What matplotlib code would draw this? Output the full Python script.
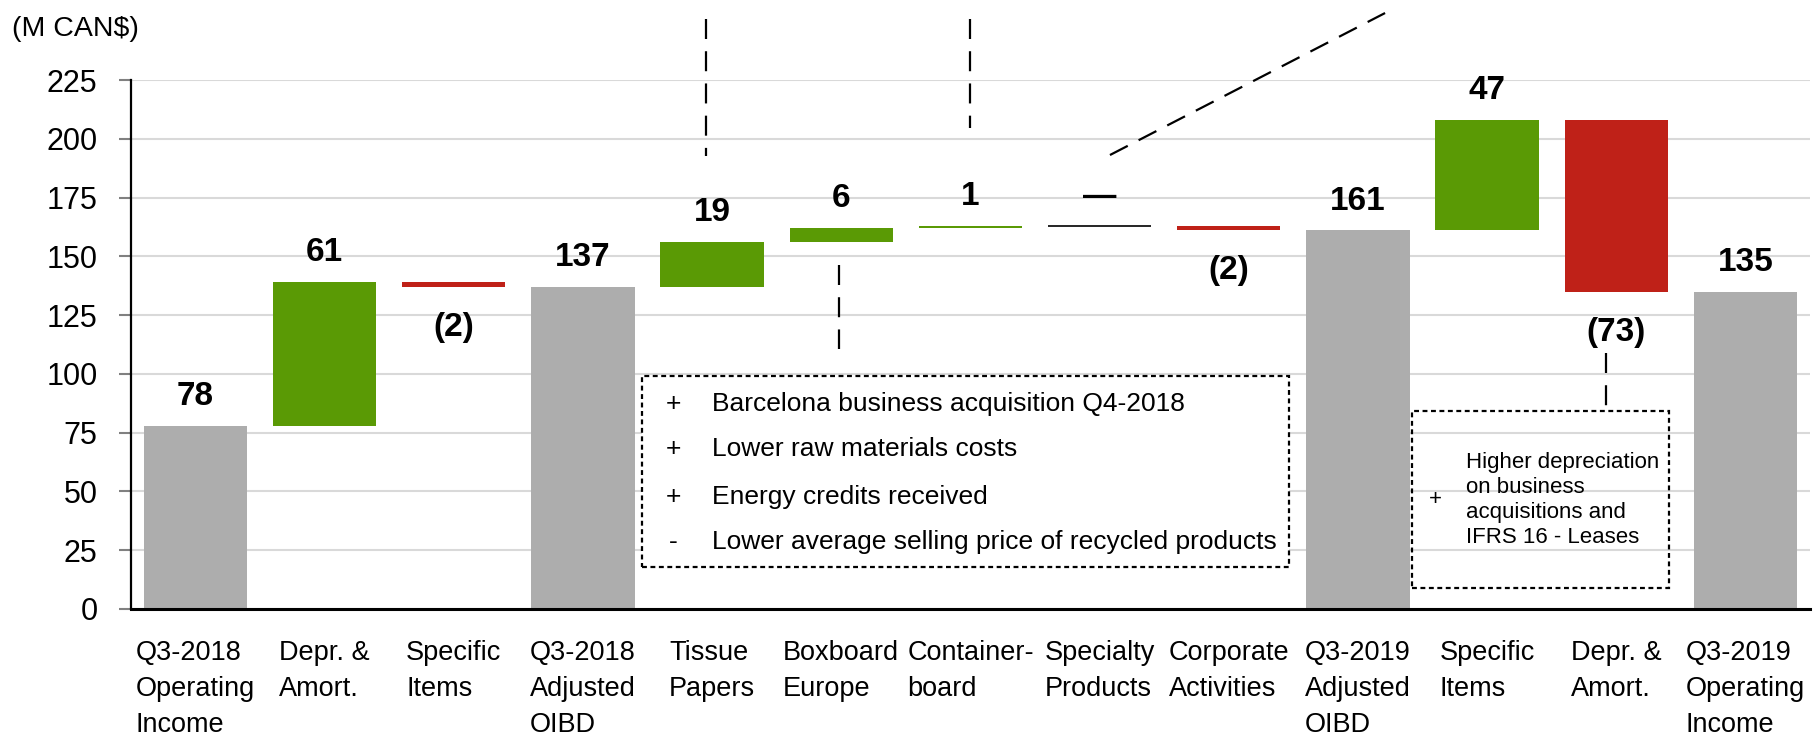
import matplotlib
matplotlib.use("Agg")
import matplotlib.pyplot as plt
from matplotlib.patches import Rectangle

plt.rcParams['font.family'] = ['Liberation Sans', 'DejaVu Sans']

# data
categories = ["Q3-2018\nOperating\nIncome", "Depr. &\nAmort.", "Specific\nItems",
              "Q3-2018\nAdjusted\nOIBD", "Tissue\nPapers", "Boxboard\nEurope",
              "Container-\nboard", "Specialty\nProducts", "Corporate\nActivities",
              "Q3-2019\nAdjusted\nOIBD", "Specific\nItems", "Depr. &\nAmort.",
              "Q3-2019\nOperating\nIncome"]
values = [78, 61, -2, 137, 19, 6, 1, 0, -2, 161, 47, -73, 135]
is_total = [True, False, False, True, False, False, False, False, False,
            True, False, False, True]
value_labels = ["78", "61", "(2)", "137", "19", "6", "1", "\u2014", "(2)",
                "161", "47", "(73)", "135"]

box1_signs = ["+", "+", "+", "-"]
box1_lines = ["Barcelona business acquisition Q4-2018",
              "Lower raw materials costs",
              "Energy credits received",
              "Lower average selling price of recycled products"]
box2_sign = "+"
box2_text = "Higher depreciation\non business\nacquisitions and\nIFRS 16 - Leases"

GRAY = "#adadad"
GREEN = "#5a9a05"
RED = "#bf2118"

fig = plt.figure(figsize=(18.16, 7.5), dpi=100)
ax = fig.add_axes([0.0721, 0.188, 0.9246, 0.7053])

# waterfall
running = 0
bottoms, heights, colors = [], [], []
for v, tot in zip(values, is_total):
    if tot:
        bottoms.append(0)
        heights.append(v)
        colors.append(GRAY)
        running = v
    else:
        if v >= 0:
            bottoms.append(running)
        else:
            bottoms.append(running + v)
        heights.append(abs(v))
        colors.append(GREEN if v > 0 else (RED if v < 0 else "black"))
        running += v

x = list(range(len(values)))
bars = ax.bar(x, heights, bottom=bottoms, width=0.8, color=colors, zorder=2)
for b, v, tot in zip(bars, values, is_total):
    if v == 0 and not tot:
        b.set_edgecolor("black")
        b.set_linewidth(1.2)

# value labels
for i in x:
    top = bottoms[i] + heights[i]
    if values[i] >= 0 or is_total[i]:
        ax.annotate(value_labels[i], (i, top), xytext=(0, 15), textcoords="offset points",
                    ha="center", va="baseline", fontsize=24, fontweight="bold")
    else:
        ax.annotate(value_labels[i], (i, bottoms[i]), xytext=(0, -18), textcoords="offset points",
                    ha="center", va="top", fontsize=24, fontweight="bold")

ax.set_xlim(-0.5, len(values) - 0.5)
ax.set_ylim(0, 225)
ax.set_yticks(range(0, 226, 25))
ax.set_xticks(x)
ax.set_xticklabels(categories)
for lbl in ax.get_xticklabels():
    lbl.set_multialignment("left")
    lbl.set_linespacing(1.5)

ax.set_axisbelow(True)
ax.yaxis.grid(True, color="#d9d9d9", lw=1.5)
for s in ["top", "right"]:
    ax.spines[s].set_visible(False)
ax.spines["left"].set_linewidth(1.6)
ax.spines["bottom"].set_linewidth(2.2)
ax.spines["bottom"].set_zorder(3)
ax.tick_params(axis="y", length=9, width=1.5, color="#808080", pad=15, labelsize=22)
ax.tick_params(axis="x", length=0, pad=22, labelsize=19.5)

fig.text(0.0066, 0.962, r"(M CAN\$)", fontsize=20.5, va="center", ha="left")

# dashed callout lines
callouts = [((3.95, 251), (3.95, 192.7)),
            ((6.0, 251), (6.0, 204.5)),
            ((7.08, 193.1), (9.21, 253.5)),
            ((4.98, 146.3), (4.98, 110.6)),
            ((10.92, 108.9), (10.92, 86.3))]
for (x0, y0), (x1, y1) in callouts:
    ax.plot([x0, x1], [y0, y1], color="black", lw=1.6, dashes=(9, 5.5),
            clip_on=False, zorder=4)

# comment boxes
ax.add_patch(Rectangle((3.46, 17.9), 8.47 - 3.46, 99 - 17.9, fill=True, facecolor="white",
                       edgecolor="black", lw=1.6, ls=(0, (2.2, 1.6)), zorder=3))
for s, t, yy in zip(box1_signs, box1_lines, [87.2, 68.1, 47.6, 28.5]):
    ax.text(3.70, yy, s, ha="center", va="center", fontsize=19, zorder=5)
    ax.text(4.0, yy, t, ha="left", va="center", fontsize=19, zorder=5)

ax.add_patch(Rectangle((9.42, 8.9), 11.41 - 9.42, 84.2 - 8.9, fill=False,
                       edgecolor="black", lw=1.6, ls=(0, (2.2, 1.6)), zorder=3))
ax.text(9.60, 46.4, box2_sign, ha="center", va="center", fontsize=16, zorder=5)
ax.text(9.84, 46.4, box2_text, ha="left", va="center", fontsize=16, linespacing=1.25, zorder=5)

fig.savefig("out.png", dpi=100)
